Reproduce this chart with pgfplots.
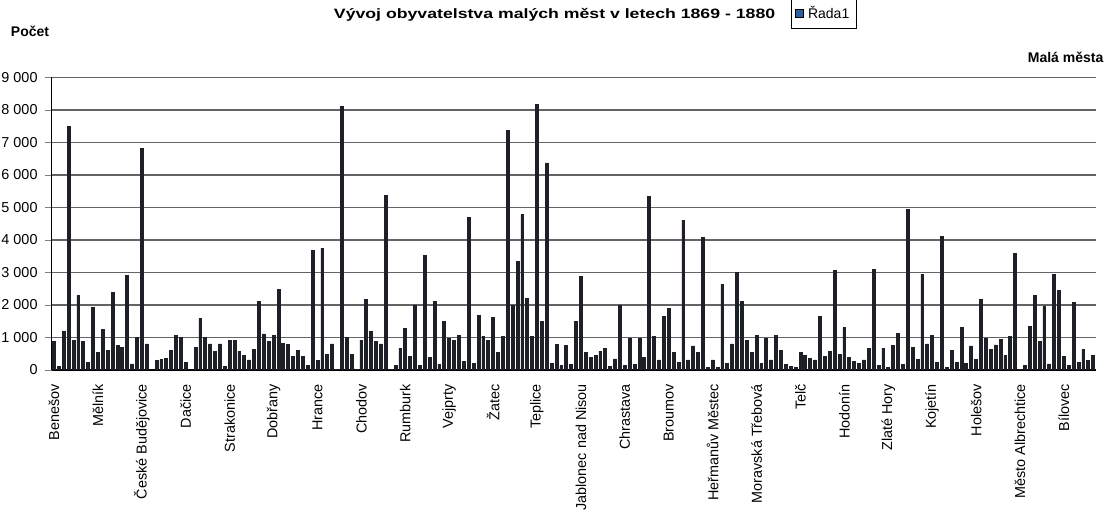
\documentclass[border=0pt]{standalone}
\usepackage{fontspec}
\setmainfont{Liberation Sans}
\usepackage{pgfplots}
\usepackage{pgfplotstable}
\pgfplotsset{compat=1.18}

\definecolor{barcol}{RGB}{30,32,40}
\definecolor{gridcol}{RGB}{100,100,100}
\definecolor{legblue}{RGB}{45,95,165}

% pocet obyvatel, mesta v poradi osy x
\pgfplotstableread{
idx pocet
0 890
1 100
2 1200
3 7480
4 920
5 2300
6 890
7 225
8 1920
9 530
10 1250
11 590
12 2380
13 760
14 680
15 2920
16 185
17 990
18 6810
19 800
20 0
21 280
22 330
23 360
24 590
25 1065
26 1000
27 235
28 0
29 690
30 1590
31 1000
32 800
33 580
34 800
35 100
36 920
37 920
38 580
39 460
40 310
41 635
42 2120
43 1110
44 890
45 1065
46 2480
47 830
48 780
49 430
50 610
51 430
52 130
53 3690
54 300
55 3740
56 490
57 800
58 30
59 8110
60 1000
61 490
62 30
63 920
64 2170
65 1180
66 870
67 800
68 5360
69 30
70 150
71 670
72 1280
73 410
74 2000
75 130
76 3510
77 390
78 2120
79 175
80 1490
81 970
82 920
83 1055
84 255
85 4690
86 205
87 1670
88 1045
89 900
90 1620
91 530
92 1045
93 7380
94 1980
95 3330
96 4780
97 2190
98 1045
99 8170
100 1490
101 6370
102 205
103 790
104 130
105 750
106 175
107 1490
108 2870
109 530
110 390
111 440
112 580
113 655
114 100
115 340
116 2000
117 130
118 970
119 175
120 970
121 390
122 5350
123 1045
124 310
125 1660
126 1900
127 530
128 225
129 4610
130 310
131 740
132 530
133 4070
134 80
135 310
136 70
137 2630
138 205
139 800
140 3000
141 2100
142 920
143 530
144 1055
145 205
146 970
147 310
148 1055
149 590
150 175
151 120
152 70
153 530
154 460
155 360
156 310
157 1660
158 430
159 560
160 3050
161 480
162 1310
163 390
164 255
165 205
166 310
167 670
168 3100
169 150
170 670
171 70
172 750
173 1130
174 175
175 4950
176 690
177 330
178 2940
179 800
180 1075
181 235
182 4120
183 70
184 590
185 235
186 1310
187 205
188 740
189 330
190 2180
191 970
192 645
193 770
194 950
195 460
196 1020
197 3590
198 20
199 150
200 1330
201 2300
202 870
203 1970
204 185
205 2950
206 2440
207 410
208 150
209 2090
210 225
211 635
212 280
213 460
}\mesta

\begin{document}
\begin{tikzpicture}
\path[use as bounding box] (-25.8pt,-71.5pt) rectangle (527.7pt,185pt);
\begin{axis}[
    scale only axis,
    width=522pt, height=146.3pt,
    xmin=-0.5, xmax=213.5,
    ymin=0, ymax=9000,
    ybar, bar width=1.45pt,
    axis x line*=bottom, axis y line*=left,
    axis line style={-, black, line width=0.6pt},
    ymajorgrids,
    grid style={gridcol, line width=0.6pt},
    ytick={0,1000,...,9000},
    yticklabels={0,1 000,2 000,3 000,4 000,5 000,6 000,7 000,8 000,9 000},
    tick align=outside,
    major tick length=3.5pt,
    xtick={0,9,...,207},
    xticklabels={Benešov,Mělník,České Budějovice,Dačice,Strakonice,Dobřany,Hrance,Chodov,Rumburk,Vejprty,Žatec,Teplice,Jablonec nad Nisou,Chrastava,Broumov,Heřmanův Městec,Moravská Třebová,Telč,Hodonín,Zlaté Hory,Kojetín,Holešov,Město Albrechtice,Bílovec},
    xtick style={draw=none},
    x tick label style={rotate=90, anchor=east, font=\fontsize{7.2}{8}\selectfont},
    y tick label style={font=\fontsize{7.2}{8}\selectfont},
    legend style={at={(0.740,1.218)}, anchor=center, draw=black, line width=0.5pt,
        font=\fontsize{7}{8}\selectfont, inner sep=1.8pt},
]
\addplot[fill=barcol, draw=barcol, bar shift=0pt,
    legend image code/.code={\draw[fill=legblue, draw=black, line width=0.5pt] (0pt,-2pt) rectangle (4pt,2pt);}]
    table[x=idx, y=pocet] {\mesta};
\legend{Řada1}
\end{axis}
\node[font=\bfseries\fontsize{6.8}{8}\selectfont, xscale=1.3] at (251.5pt,177.5pt) {Vývoj obyvatelstva malých měst v letech 1869 - 1880};
\node[font=\bfseries\fontsize{7}{8}\selectfont] at (-10.8pt,169.5pt) {Počet};
\node[font=\bfseries\fontsize{7}{8}\selectfont] at (507pt,156.5pt) {Malá města};
\end{tikzpicture}
\end{document}
